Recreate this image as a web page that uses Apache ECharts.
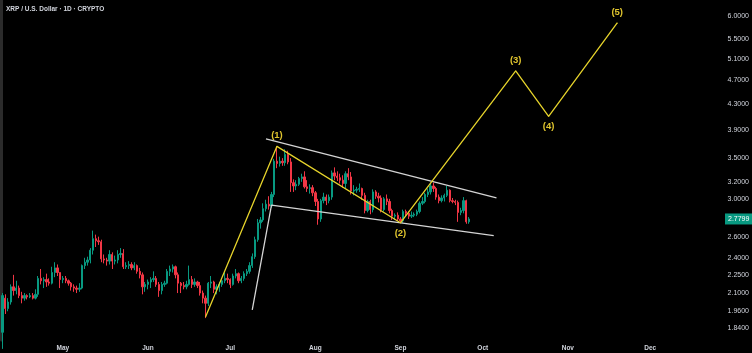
<!DOCTYPE html>
<html>
<head>
<meta charset="utf-8">
<style>
  html, body { margin: 0; padding: 0; background: #000; }
  #chart { width: 752px; height: 353px; }
</style>
<script src="https://cdn.jsdelivr.net/npm/echarts@6/dist/echarts.min.js"></script>
</head>
<body>
<div id="chart"></div>
<script>
// daily XRPUSD candles, first one is 2025-04-09
var startDate = '2025-04-09';
var opens = [
  1.81, 2.06, 1.98, 2.03, 2.15, 2.12, 2.14, 2.08, 2.06, 2.08, 2.07, 2.08, 2.06, 2.09, 2.22, 2.20, 2.21, 2.19, 2.18, 2.27, 2.31, 2.27,
  2.21, 2.22, 2.20, 2.18, 2.15, 2.14, 2.13, 2.14, 2.33, 2.36, 2.38, 2.47, 2.58, 2.56, 2.55, 2.39, 2.38, 2.37, 2.43, 2.37, 2.38, 2.43, 2.44, 2.32, 2.33, 2.34, 2.31, 2.33, 2.28, 2.25, 2.15,
  2.17, 2.19, 2.21, 2.22, 2.17, 2.12, 2.17, 2.18, 2.28, 2.30, 2.32, 2.25, 2.18, 2.16, 2.15, 2.17, 2.21, 2.17, 2.19, 2.16, 2.10, 2.06, 2.02, 2.18, 2.19, 2.13, 2.15, 2.17, 2.20, 2.22,
  2.21, 2.17, 2.24, 2.26, 2.20, 2.22, 2.26, 2.28, 2.33, 2.41, 2.57, 2.74, 2.77, 2.89, 2.94, 2.92, 3.05, 3.46, 3.43, 3.46, 3.44, 3.55, 3.45, 3.19, 3.15, 3.17, 3.24, 3.26, 3.14, 3.12, 3.13,
  3.07, 2.97, 2.78, 2.98, 3.02, 2.98, 3.02, 3.31, 3.27, 3.25, 3.22, 3.18, 3.30, 3.26, 3.09, 3.10, 3.11, 3.12, 3.04, 2.87, 2.97, 2.88, 3.08, 3.03, 3.01, 2.88, 3.00, 2.97, 2.87, 2.81, 2.82,
  2.78, 2.76, 2.86, 2.84, 2.81, 2.82, 2.83, 2.86, 2.95, 2.97, 3.05, 3.08, 3.15, 3.12, 3.02, 2.98, 3.01, 3.04, 3.10, 2.98, 2.97, 2.96, 2.85, 2.87, 2.98, 2.75
];
var closes = [
  2.08, 1.98, 2.03, 2.15, 2.12, 2.14, 2.08, 2.06, 2.08, 2.07, 2.08, 2.06, 2.09, 2.22, 2.20, 2.21, 2.19, 2.18, 2.27, 2.31, 2.27, 2.21,
  2.22, 2.20, 2.18, 2.15, 2.14, 2.13, 2.14, 2.33, 2.36, 2.38, 2.47, 2.58, 2.56, 2.55, 2.39, 2.38, 2.37, 2.43, 2.37, 2.38, 2.43, 2.44, 2.32, 2.33, 2.34, 2.31, 2.33, 2.28, 2.25, 2.15, 2.17,
  2.19, 2.21, 2.22, 2.17, 2.12, 2.17, 2.18, 2.28, 2.30, 2.32, 2.25, 2.18, 2.16, 2.15, 2.17, 2.21, 2.17, 2.19, 2.16, 2.10, 2.06, 2.02, 2.18, 2.19, 2.13, 2.15, 2.17, 2.20, 2.22, 2.21,
  2.17, 2.24, 2.26, 2.20, 2.22, 2.26, 2.28, 2.33, 2.41, 2.57, 2.74, 2.77, 2.89, 2.94, 2.92, 3.05, 3.46, 3.43, 3.46, 3.44, 3.55, 3.45, 3.19, 3.15, 3.17, 3.24, 3.26, 3.14, 3.12, 3.13, 3.07,
  2.97, 2.78, 2.98, 3.02, 2.98, 3.02, 3.31, 3.27, 3.25, 3.22, 3.18, 3.30, 3.26, 3.09, 3.10, 3.11, 3.12, 3.04, 2.87, 2.97, 2.88, 3.08, 3.03, 3.01, 2.88, 3.00, 2.97, 2.87, 2.81, 2.82, 2.78,
  2.76, 2.86, 2.84, 2.81, 2.82, 2.83, 2.86, 2.95, 2.97, 3.05, 3.08, 3.15, 3.12, 3.02, 2.98, 3.01, 3.04, 3.10, 2.98, 2.97, 2.96, 2.85, 2.87, 2.98, 2.75, 2.7799
];
var lows = [
  1.70, 1.94, 1.96, 2.01, 2.08, 2.09, 2.06, 2.02, 2.04, 2.05, 2.06, 2.05, 2.05, 2.07, 2.17, 2.14, 2.15, 2.16, 2.17, 2.23, 2.24, 2.14,
  2.18, 2.18, 2.16, 2.12, 2.11, 2.10, 2.11, 2.13, 2.30, 2.33, 2.35, 2.43, 2.50, 2.52, 2.36, 2.35, 2.33, 2.34, 2.30, 2.34, 2.35, 2.40, 2.30, 2.30, 2.30, 2.29, 2.29, 2.26, 2.22, 2.09, 2.11,
  2.13, 2.14, 2.19, 2.15, 2.07, 2.09, 2.15, 2.17, 2.24, 2.27, 2.22, 2.10, 2.10, 2.13, 2.13, 2.16, 2.14, 2.15, 2.14, 2.08, 2.02, 1.91, 2.00, 2.14, 2.10, 2.09, 2.11, 2.15, 2.18, 2.18,
  2.14, 2.16, 2.22, 2.18, 2.18, 2.20, 2.24, 2.26, 2.31, 2.39, 2.55, 2.68, 2.75, 2.86, 2.88, 2.90, 3.02, 3.37, 3.39, 3.40, 3.40, 3.42, 3.08, 3.08, 3.10, 3.15, 3.20, 3.12, 3.08, 3.06, 3.03,
  2.92, 2.72, 2.75, 2.95, 2.93, 2.95, 2.99, 3.22, 3.21, 3.18, 3.13, 3.12, 3.22, 3.05, 3.04, 3.07, 3.08, 2.99, 2.84, 2.85, 2.83, 2.85, 3.00, 2.96, 2.85, 2.86, 2.93, 2.84, 2.77, 2.77, 2.76,
  2.74, 2.74, 2.80, 2.78, 2.79, 2.80, 2.81, 2.84, 2.93, 2.95, 3.02, 3.05, 3.08, 2.99, 2.95, 2.96, 2.97, 3.02, 2.96, 2.95, 2.93, 2.75, 2.82, 2.84, 2.73, 2.73
];
var highs = [
  2.10, 2.09, 2.06, 2.17, 2.25, 2.20, 2.16, 2.11, 2.10, 2.09, 2.10, 2.10, 2.13, 2.24, 2.30, 2.23, 2.26, 2.22, 2.32, 2.36, 2.34, 2.27,
  2.24, 2.24, 2.21, 2.19, 2.17, 2.16, 2.18, 2.34, 2.40, 2.41, 2.49, 2.66, 2.62, 2.60, 2.57, 2.43, 2.40, 2.47, 2.45, 2.42, 2.47, 2.49, 2.48, 2.36, 2.37, 2.36, 2.36, 2.34, 2.31, 2.27, 2.19,
  2.21, 2.23, 2.28, 2.24, 2.19, 2.19, 2.20, 2.30, 2.33, 2.34, 2.33, 2.27, 2.19, 2.19, 2.20, 2.33, 2.24, 2.22, 2.20, 2.19, 2.12, 2.08, 2.19, 2.24, 2.20, 2.17, 2.19, 2.21, 2.27, 2.26,
  2.22, 2.26, 2.30, 2.27, 2.24, 2.28, 2.30, 2.36, 2.44, 2.60, 2.78, 2.80, 2.95, 2.99, 3.03, 3.08, 3.49, 3.66, 3.52, 3.50, 3.62, 3.60, 3.50, 3.23, 3.22, 3.26, 3.30, 3.33, 3.22, 3.17, 3.16,
  3.09, 3.00, 3.00, 3.07, 3.05, 3.05, 3.34, 3.38, 3.33, 3.30, 3.28, 3.33, 3.37, 3.32, 3.16, 3.14, 3.18, 3.13, 3.07, 2.99, 2.99, 3.11, 3.10, 3.07, 3.04, 3.02, 3.05, 3.00, 2.89, 2.84, 2.85,
  2.80, 2.88, 2.88, 2.86, 2.86, 2.85, 2.88, 2.97, 3.02, 3.07, 3.12, 3.18, 3.19, 3.14, 3.05, 3.04, 3.06, 3.15, 3.11, 3.01, 2.99, 2.98, 2.90, 3.02, 2.99, 2.80
];

// elliott wave count and channel drawn on the chart
var waveDates = ['2025-06-22', '2025-07-18', '2025-09-01', '2025-10-13', '2025-10-25', '2025-11-19'];
var wavePrices = [1.92, 3.66, 2.74, 4.87, 4.10, 5.84];
var waveLabels = ['', '(1)', '(2)', '(3)', '(4)', '(5)'];
var upperDates = ['2025-07-14', '2025-10-06'];
var upperPrices = [3.765, 3.01];
var lowerDates = ['2025-07-09', '2025-07-16', '2025-10-05'];
var lowerPrices = [1.97, 2.93, 2.61];

var priceTicks = [1.84, 1.96, 2.1, 2.25, 2.4, 2.6, 3.0, 3.2, 3.5, 3.9, 4.3, 4.7, 5.1, 5.5, 6.0];
var monthTicks = ['2025-05-01', '2025-06-01', '2025-07-01', '2025-08-01', '2025-09-01', '2025-10-01', '2025-11-01', '2025-12-01'];
var monthNames = ['Jan', 'Feb', 'Mar', 'Apr', 'May', 'Jun', 'Jul', 'Aug', 'Sep', 'Oct', 'Nov', 'Dec'];

var DAY = 24 * 3600 * 1000;
function toTime(s) {
  var p = s.split('-');
  return Date.UTC(+p[0], +p[1] - 1, +p[2]);
}
function pairs(ds, ps) {
  return ds.map(function (d, i) { return [toTime(d), ps[i]]; });
}
var t0 = toTime(startDate);
var candles = opens.map(function (o, i) {
  return [t0 + i * DAY, o, closes[i], lows[i], highs[i]];
});
var lastClose = closes[closes.length - 1];

var UP = '#089981', DOWN = '#f23645', YELLOW = '#e6d32b', WHITE = '#d4d4d4';
var FONT = 'Liberation Sans';

var chart = echarts.init(document.getElementById('chart'));
chart.setOption({
  backgroundColor: '#000',
  animation: false,
  title: {
    text: 'XRP / U.S. Dollar · 1D · CRYPTO',
    left: 1,
    top: 1,
    textStyle: {color: '#d1d4dc', fontSize: 6.5, fontWeight: 'bold', fontFamily: FONT}
  },
  grid: {left: 1, right: 38, top: 0, bottom: 13},
  xAxis: {
    type: 'value',
    min: toTime('2025-04-08') + 0.44 * DAY,
    max: toTime('2025-12-23') + 0.9 * DAY,
    axisLine: {show: false},
    axisTick: {show: false},
    splitLine: {show: false},
    axisLabel: {
      customValues: monthTicks.map(toTime),
      formatter: function (v) { return monthNames[new Date(v).getUTCMonth()]; },
      color: '#d1d4dc',
      fontSize: 6.5,
      fontWeight: 'bold',
      fontFamily: FONT,
      margin: 5
    }
  },
  yAxis: [{
    type: 'log',
    position: 'right',
    min: 1.758,
    max: 6.37,
    axisLine: {show: false},
    axisTick: {show: false},
    splitLine: {show: false},
    axisLabel: {
      customValues: priceTicks,
      formatter: function (v) { return Number(v).toFixed(4); },
      align: 'right',
      margin: 36,
      color: '#d1d4dc',
      fontSize: 7,
      fontFamily: FONT
    }
  }, {
    type: 'value',
    position: 'left',
    min: 0,
    max: 1,
    axisLine: {show: true, lineStyle: {color: '#2b2b2b', width: 3}},
    axisTick: {show: false},
    axisLabel: {show: false},
    splitLine: {show: false}
  }],
  series: [{
    type: 'candlestick',
    data: candles,
    barWidth: 1.8,
    itemStyle: {color: UP, color0: DOWN, borderColor: UP, borderColor0: DOWN, borderWidth: 1},
    markLine: {
      silent: true,
      symbol: ['none', 'none'],
      lineStyle: {color: 'transparent', width: 0},
      label: {
        position: 'end',
        distance: 12,
        formatter: lastClose.toFixed(4),
        color: '#fff',
        backgroundColor: UP,
        padding: [2, 3],
        fontSize: 7,
        fontFamily: FONT
      },
      data: [{yAxis: lastClose}]
    }
  }, {
    type: 'line',
    data: pairs(upperDates, upperPrices),
    symbol: 'none',
    silent: true,
    lineStyle: {color: WHITE, width: 1.3}
  }, {
    type: 'line',
    data: pairs(lowerDates, lowerPrices),
    symbol: 'none',
    silent: true,
    lineStyle: {color: WHITE, width: 1.3}
  }, {
    type: 'line',
    silent: true,
    z: 3,
    symbol: 'circle',
    symbolSize: 1,
    showSymbol: true,
    itemStyle: {color: YELLOW},
    lineStyle: {color: YELLOW, width: 1.3},
    label: {color: '#e0c52e', fontSize: 9.5, fontWeight: 'bold', fontFamily: FONT, distance: 5},
    data: waveDates.map(function (d, i) {
      return {
        value: [toTime(d), wavePrices[i]],
        label: {show: waveLabels[i] !== '', formatter: waveLabels[i], position: i % 2 ? 'top' : 'bottom'}
      };
    })
  }]
});
</script>
</body>
</html>
